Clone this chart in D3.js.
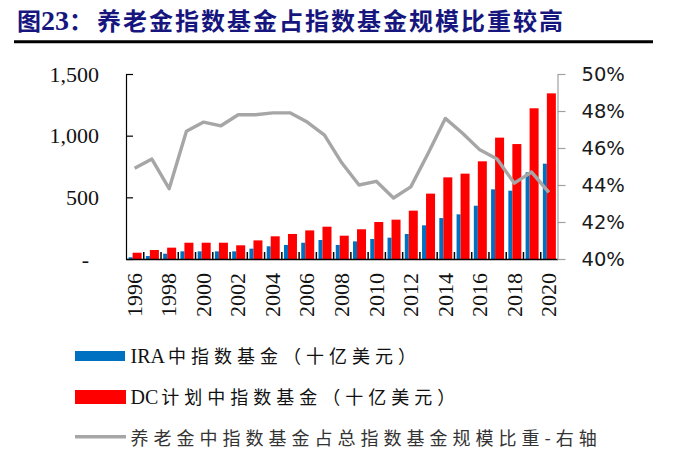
<!DOCTYPE html>
<html>
<head>
<meta charset="utf-8">
<script src="https://cdn.jsdelivr.net/npm/d3@7"></script>
<style>
  body { margin: 0; background: #fff; }
  svg { display: block; }
  .serif { font-family: "Liberation Serif", "Times New Roman", serif; }
  .cjk { font-family: "Noto Sans CJK SC", sans-serif; }
  .right-axis text { font-family: "DejaVu Sans", Verdana, sans-serif; font-size: 19.5px; fill: #1a1a1a; }
  .right-axis path, .right-axis line { stroke: #a0a0a0; stroke-width: 1.2; }
  .left-axis text { font-family: "Liberation Serif", serif; font-size: 22px; fill: #111; }
  .left-axis path, .left-axis line { stroke: #000; stroke-width: 1.2; }
  .bottom-axis path, .bottom-axis line { stroke: #000; stroke-width: 1.5; }
  .year-axis text { font-family: "Liberation Serif", serif; font-size: 22px; fill: #111; }
</style>
</head>
<body>
<svg id="chart" width="699" height="458"></svg>
<script>
  // categories
  var years = ['1996', '1997', '1998', '1999', '2000', '2001', '2002', '2003', '2004',
               '2005', '2006', '2007', '2008', '2009', '2010', '2011', '2012', '2013',
               '2014', '2015', '2016', '2017', '2018', '2019', '2020'];
  // IRA index funds (billion USD)
  var ira = [14, 24, 43, 62, 62, 62, 62, 84, 103, 114, 132, 154, 114,
             143, 162, 173, 203, 273, 332, 362, 432, 565, 554, 703, 773];
  // DC plan index funds (billion USD)
  var dc = [51, 73, 92, 132, 132, 132, 111, 151, 184, 203, 232, 262, 189,
            241, 300, 319, 392, 530, 662, 692, 792, 984, 932, 1222, 1343];
  // share of pension money in all index funds (%), right axis
  var share = [44.9, 45.4, 43.8, 46.9, 47.4, 47.2, 47.8, 47.8, 47.9, 47.9, 47.4, 46.7, 45.2,
               44.0, 44.2, 43.3, 43.9, 45.7, 47.6, 46.8, 45.9, 45.4, 44.1, 44.7, 43.6];

  var leftTicks = [0, 500, 1000, 1500];
  var leftLabels = ['-', '500', '1,000', '1,500'];
  var rightTicks = [40, 42, 44, 46, 48, 50];
  var yearLabels = years.filter(function(d, i) { return i % 2 === 0; });

  var legendItems = [
    { latin: 'IRA', cjk: '中指数基金（十亿美元）' },
    { latin: 'DC', cjk: '计划中指数基金（十亿美元）' },
    { latin: '', cjk: '养老金中指数基金占总指数基金规模比重-右轴' }
  ];

  var svg = d3.select('#chart');
  // plot box (note: "top" is reserved on window, so use other names)
  var plotLeft = 126, plotRight = 557.5, plotTop = 74, plotBottom = 259;

  var x = d3.scaleBand().domain(years).range([plotLeft, plotRight]).padding(0);
  var yL = d3.scaleLinear().domain([0, 1500]).range([plotBottom, plotTop]);
  var yR = d3.scaleLinear().domain([40, 50]).range([plotBottom, plotTop]);
  var cx = function(d) { return x(d) + x.bandwidth() / 2; };

  // title
  var title = svg.append('text')
    .attr('x', 17)
    .attr('y', 30)
    .attr('fill', '#16167e')
    .style('font-weight', 'bold')
    .style('font-size', '24px')
    .classed('cjk', true);
  title.append('tspan').text('图');
  title.append('tspan').classed('serif', true).style('font-size', '28px').text('23');
  title.append('tspan').text('：');
  title.append('tspan').attr('x', 97).style('letter-spacing', '2px')
    .text('养老金指数基金占指数基金规模比重较高');

  svg.append('line')
    .attr('x1', 14).attr('x2', 653)
    .attr('y1', 41.7).attr('y2', 41.7)
    .attr('stroke', '#000')
    .attr('stroke-width', 3);

  // bars
  svg.append('g').selectAll('rect')
      .data(years)
    .enter().append('rect')
      .attr('x', function(d) { return cx(d) - 6; })
      .attr('width', 4)
      .attr('y', function(d, i) { return yL(ira[i]); })
      .attr('height', function(d, i) { return plotBottom - yL(ira[i]); })
      .attr('fill', '#0070c0');

  svg.append('g').selectAll('rect')
      .data(years)
    .enter().append('rect')
      .attr('x', function(d) { return cx(d) - 2; })
      .attr('width', 9)
      .attr('y', function(d, i) { return yL(dc[i]); })
      .attr('height', function(d, i) { return plotBottom - yL(dc[i]); })
      .attr('fill', '#ff0000');

  // bottom axis with ticks between categories
  var xb = d3.scaleLinear().domain([0, years.length]).range([plotLeft, plotRight]);
  svg.append('g')
    .attr('class', 'bottom-axis')
    .attr('transform', 'translate(0,' + plotBottom + ')')
    .call(d3.axisBottom(xb).tickValues(d3.range(1, years.length)).tickSize(-7).tickSizeOuter(0).tickFormat(''));

  // year labels, rotated
  var yearAxis = svg.append('g')
    .attr('class', 'year-axis')
    .attr('transform', 'translate(0,' + plotBottom + ')')
    .call(d3.axisBottom(x).tickValues(yearLabels).tickSize(0));
  yearAxis.select('.domain').remove();
  yearAxis.selectAll('text')
    .attr('transform', 'rotate(-90)')
    .attr('text-anchor', 'end')
    .attr('x', -14)
    .attr('y', 0)
    .attr('dy', '0.33em');

  // left axis
  var leftAxis = svg.append('g')
    .attr('class', 'left-axis')
    .attr('transform', 'translate(' + plotLeft + ',0)')
    .call(d3.axisLeft(yL).tickValues(leftTicks).tickSizeInner(-7).tickSizeOuter(0).tickPadding(27)
      .tickFormat(function(d, i) { return leftLabels[i]; }));
  leftAxis.selectAll('text').filter(function(d) { return d === 0; }).attr('dx', -10);

  // right axis
  svg.append('g')
    .attr('class', 'right-axis')
    .attr('transform', 'translate(' + plotRight + ',0)')
    .call(d3.axisRight(yR).tickValues(rightTicks).tickSize(8).tickSizeOuter(0).tickPadding(16)
      .tickFormat(function(d) { return d + '%'; }));

  // share line
  var line = d3.line()
    .x(function(d, i) { return cx(years[i]); })
    .y(function(d) { return yR(d); });
  svg.append('path')
    .datum(share)
    .attr('d', line)
    .attr('fill', 'none')
    .attr('stroke', '#a6a6a6')
    .attr('stroke-width', 3.4)
    .attr('stroke-linejoin', 'round');

  // legend
  var lg = svg.append('g');
  lg.append('rect').attr('x', 75).attr('y', 351).attr('width', 50).attr('height', 10).attr('fill', '#0070c0');
  lg.append('rect').attr('x', 75).attr('y', 390).attr('width', 51).attr('height', 14).attr('fill', '#ff0000');
  lg.append('line').attr('x1', 75).attr('x2', 126).attr('y1', 436.7).attr('y2', 436.7)
    .attr('stroke', '#a6a6a6').attr('stroke-width', 3.4);

  var baselines = [363, 403.5, 445];
  legendItems.forEach(function(item, i) {
    var t = lg.append('text')
      .attr('x', 130.5)
      .attr('y', baselines[i])
      .attr('fill', i === 2 ? '#333' : '#111');
    if (item.latin) {
      t.append('tspan').classed('serif', true).style('font-size', '20px').text(item.latin);
    }
    t.append('tspan').classed('cjk', true)
      .attr('dx', item.latin ? 3 : 0)
      .style('font-size', '18px')
      .style('letter-spacing', '5px')
      .text(item.cjk);
  });
</script>
</body>
</html>
